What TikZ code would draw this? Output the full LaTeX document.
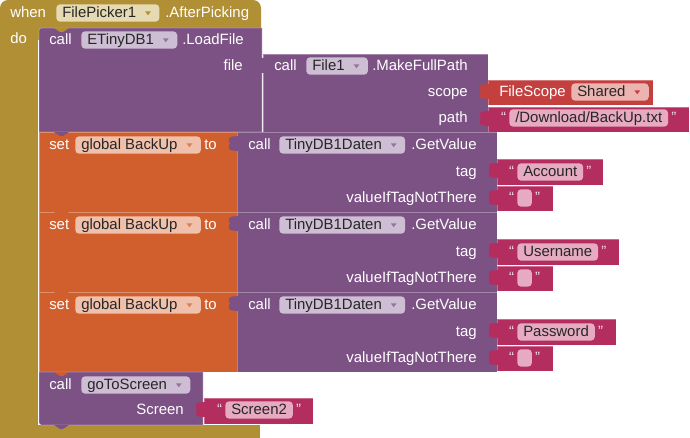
\documentclass[tikz,border=0pt]{standalone}
\usepackage{fontspec}
\setmainfont{Liberation Sans}
\usetikzlibrary{positioning}
\definecolor{custom-olive}{RGB}{177, 143, 53}
\definecolor{custom-olive-light}{RGB}{230, 218, 178}
\definecolor{custom-purple}{RGB}{124, 82, 133}
\definecolor{custom-purple-light}{RGB}{206, 190, 212}
\definecolor{custom-orange}{RGB}{208, 95, 45}
\definecolor{custom-orange-light}{RGB}{240, 192, 170}
\definecolor{custom-magenta}{RGB}{179, 45, 94}
\definecolor{custom-magenta-light}{RGB}{230, 170, 193}
\definecolor{custom-red}{RGB}{196, 64, 62}
\definecolor{custom-red-light}{RGB}{236, 180, 176}
\newcommand\blockfont{\fontsize{11.2}{13.4}\selectfont}
\newcommand\ddspace{\rule{13pt}{0pt}}
\newcommand\dropdown[2]{\fill[#2] ([xshift=-11pt,yshift=1.3pt]#1.east) -- ++(4.4pt,0) -- ++(-2.2pt,-3pt) -- cycle;}
\newcommand\valtab[3]{\fill[#3] (#1+1,#2+4) -- (#1-5,#2+4.5) .. controls (#1-9,#2+5) and (#1-9,#2+9) .. (#1-7,#2+11.5) .. controls (#1-9,#2+14) and (#1-9,#2+18.5) .. (#1-5,#2+18.5) -- (#1+1,#2+19) -- cycle;}
\newcommand\stmtnotch[3]{\fill[#3] (#1+15,#2) -- (#1+21,#2+4) -- (#1+24,#2+4) -- (#1+30,#2) -- cycle;}
\tikzset{
  eventblk/.style={fill=custom-olive},
  callblk/.style={fill=custom-purple, draw=white, draw opacity=0.3, line width=0.5pt},
  setblk/.style={fill=custom-orange, draw=white, draw opacity=0.3, line width=0.5pt},
  textblk/.style={fill=custom-magenta, draw=white, draw opacity=0.3, line width=0.5pt},
  scopeblk/.style={fill=custom-red, draw=white, draw opacity=0.3, line width=0.5pt},
  lbl/.style={text=white, font=\blockfont, inner sep=0pt},
  field/.style={fill=#1, rounded corners=3pt, text=black!85, font=\blockfont, inner xsep=4.5pt, inner ysep=0.3pt, text height=10pt, text depth=2.5pt, anchor=west},
  quote/.style={text=custom-magenta-light!45!white, font=\blockfont, inner sep=0pt, text height=10pt, text depth=2.5pt}
}
\begin{document}
\begin{tikzpicture}[x=0.75pt, y=-0.75pt]
\useasboundingbox (0,0) rectangle (690,438);
\fill[eventblk, rounded corners=6pt] (0,0) rectangle (261,40);
\fill[eventblk] (0,20) rectangle (38,438);
\fill[eventblk] (0,425) rectangle (260,438);
\filldraw[callblk] (262,132) -- (39,132) -- (39,34) .. controls (39,28) .. (45,28) -- (262,28) -- cycle;
\stmtnotch{39}{28}{custom-olive}
\filldraw[callblk] (263,54) rectangle (488,132);
\valtab{263}{54}{custom-purple}
\filldraw[scopeblk] (488,80) rectangle (653,105);
\valtab{488}{80}{custom-red}
\filldraw[textblk] (488,107) rectangle (689,132);
\valtab{488}{107}{custom-magenta}
\filldraw[setblk] (39,132) rectangle (237,212);
\stmtnotch{39}{132}{custom-purple}
\filldraw[callblk] (237,132) rectangle (497,212);
\valtab{237}{132}{custom-purple}
\filldraw[textblk] (497,159) rectangle (603,185);
\valtab{497}{159}{custom-magenta}
\filldraw[textblk] (497,186) rectangle (553,211);
\valtab{497}{186}{custom-magenta}
\filldraw[setblk] (39,212) rectangle (237,292);
\stmtnotch{39}{212}{custom-orange}
\filldraw[callblk] (237,212) rectangle (497,292);
\valtab{237}{212}{custom-purple}
\filldraw[textblk] (497,239) rectangle (619,265);
\valtab{497}{239}{custom-magenta}
\filldraw[textblk] (497,266) rectangle (553,291);
\valtab{497}{266}{custom-magenta}
\filldraw[setblk] (39,292) rectangle (237,372);
\stmtnotch{39}{292}{custom-orange}
\filldraw[callblk] (237,292) rectangle (497,372);
\valtab{237}{292}{custom-purple}
\filldraw[textblk] (497,319) rectangle (616,345);
\valtab{497}{319}{custom-magenta}
\filldraw[textblk] (497,346) rectangle (553,371);
\valtab{497}{346}{custom-magenta}
\filldraw[callblk] (39,372) -- (39,419) .. controls (39,425) .. (45,425) -- (203,425) -- (203,372) -- cycle;
\stmtnotch{39}{372}{custom-orange}
\stmtnotch{39}{425}{custom-purple}
\filldraw[textblk] (204,398) rectangle (313,424);
\valtab{204}{398}{custom-magenta}
\node[lbl, anchor=base west] (when) at (10,18) {when};
\node[field=custom-olive-light] (filepicker-field) at (56,13) {FilePicker1\ddspace};
\dropdown{filepicker-field}{custom-olive}
\node[lbl, anchor=base west] (afterpicking) at (165,18) {.AfterPicking};
\node[lbl, anchor=base west] (do) at (10,44) {do};
\node[lbl, anchor=base west] (call-load) at (49,45) {call};
\node[field=custom-purple-light] (etinydb-field) at (81,40) {ETinyDB1\ddspace};
\dropdown{etinydb-field}{custom-purple!80}
\node[lbl, anchor=base west] (loadfile) at (182,45) {.LoadFile};
\node[lbl, anchor=base east] (file-lbl) at (243,71) {file};
\node[lbl, anchor=base west] (call-path) at (274,71) {call};
\node[field=custom-purple-light] (file1-field) at (306,66) {File1\ddspace};
\dropdown{file1-field}{custom-purple!80}
\node[lbl, anchor=base west] (makefullpath) at (372,71) {.MakeFullPath};
\node[lbl, anchor=base east] (scope-lbl) at (468,97) {scope};
\node[lbl, anchor=base west] (filescope) at (499,97) {FileScope};
\node[field=custom-red-light] (shared-field) at (571,92) {Shared\ddspace};
\dropdown{shared-field}{custom-red}
\node[lbl, anchor=base east] (path-lbl) at (468,123) {path};
\node[field=custom-magenta-light] (path-field) at (509,118) {/Download/BackUp.txt};
\node[quote, left=2pt of path-field] (path-lq) {“};
\node[quote, right=2pt of path-field] (path-rq) {”};
\node[lbl, anchor=base west] (set1) at (49,150) {set};
\node[field=custom-orange-light] (backup1-field) at (75,145) {global BackUp\ddspace};
\dropdown{backup1-field}{custom-orange!80}
\node[lbl, anchor=base west] (to1) at (204,150) {to};
\node[lbl, anchor=base west] (call-get1) at (248,150) {call};
\node[field=custom-purple-light] (tinydb1-field) at (279,145) {TinyDB1Daten\ddspace};
\dropdown{tinydb1-field}{custom-purple!80}
\node[lbl, anchor=base west] (getvalue1) at (411,150) {.GetValue};
\node[lbl, anchor=base east] (tag1) at (477,177) {tag};
\node[field=custom-magenta-light] (account-field) at (517,172) {Account};
\node[quote, left=2pt of account-field] (account-lq) {“};
\node[quote, right=2pt of account-field] (account-rq) {”};
\node[lbl, anchor=base east] (notthere1) at (477,203) {valueIfTagNotThere};
\node[field=custom-magenta-light, minimum width=11pt] (empty1-field) at (517,198) {};
\node[quote, left=2pt of empty1-field] (empty1-lq) {“};
\node[quote, right=2pt of empty1-field] (empty1-rq) {”};
\node[lbl, anchor=base west] (set2) at (49,230) {set};
\node[field=custom-orange-light] (backup2-field) at (75,225) {global BackUp\ddspace};
\dropdown{backup2-field}{custom-orange!80}
\node[lbl, anchor=base west] (to2) at (204,230) {to};
\node[lbl, anchor=base west] (call-get2) at (248,230) {call};
\node[field=custom-purple-light] (tinydb2-field) at (279,225) {TinyDB1Daten\ddspace};
\dropdown{tinydb2-field}{custom-purple!80}
\node[lbl, anchor=base west] (getvalue2) at (411,230) {.GetValue};
\node[lbl, anchor=base east] (tag2) at (477,257) {tag};
\node[field=custom-magenta-light] (username-field) at (517,252) {Username};
\node[quote, left=2pt of username-field] (username-lq) {“};
\node[quote, right=2pt of username-field] (username-rq) {”};
\node[lbl, anchor=base east] (notthere2) at (477,283) {valueIfTagNotThere};
\node[field=custom-magenta-light, minimum width=11pt] (empty2-field) at (517,278) {};
\node[quote, left=2pt of empty2-field] (empty2-lq) {“};
\node[quote, right=2pt of empty2-field] (empty2-rq) {”};
\node[lbl, anchor=base west] (set3) at (49,310) {set};
\node[field=custom-orange-light] (backup3-field) at (75,305) {global BackUp\ddspace};
\dropdown{backup3-field}{custom-orange!80}
\node[lbl, anchor=base west] (to3) at (204,310) {to};
\node[lbl, anchor=base west] (call-get3) at (248,310) {call};
\node[field=custom-purple-light] (tinydb3-field) at (279,305) {TinyDB1Daten\ddspace};
\dropdown{tinydb3-field}{custom-purple!80}
\node[lbl, anchor=base west] (getvalue3) at (411,310) {.GetValue};
\node[lbl, anchor=base east] (tag3) at (477,337) {tag};
\node[field=custom-magenta-light] (password-field) at (517,332) {Password};
\node[quote, left=2pt of password-field] (password-lq) {“};
\node[quote, right=2pt of password-field] (password-rq) {”};
\node[lbl, anchor=base east] (notthere3) at (477,363) {valueIfTagNotThere};
\node[field=custom-magenta-light, minimum width=11pt] (empty3-field) at (517,358) {};
\node[quote, left=2pt of empty3-field] (empty3-lq) {“};
\node[quote, right=2pt of empty3-field] (empty3-rq) {”};
\node[lbl, anchor=base west] (call-screen) at (49,390) {call};
\node[field=custom-purple-light] (gotoscreen-field) at (81,385) {goToScreen\ddspace};
\dropdown{gotoscreen-field}{custom-purple!80}
\node[lbl, anchor=base east] (screen-lbl) at (184,415) {Screen};
\node[field=custom-magenta-light] (screen2-field) at (225,410) {Screen2};
\node[quote, left=2pt of screen2-field] (screen2-lq) {“};
\node[quote, right=2pt of screen2-field] (screen2-rq) {”};
\end{tikzpicture}
\end{document}
